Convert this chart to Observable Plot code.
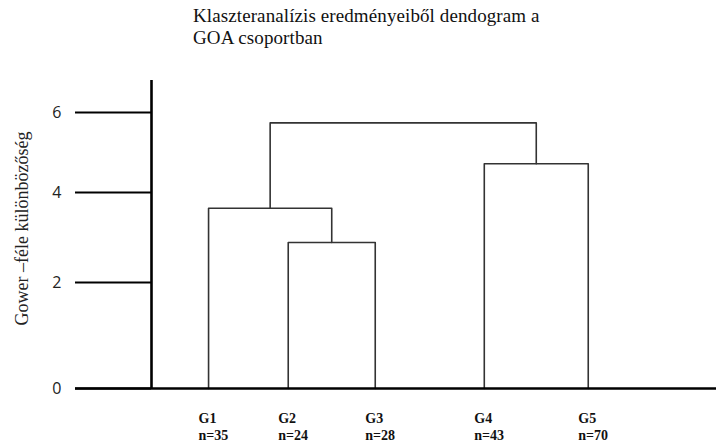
<!DOCTYPE html>
<html>
<head>
<meta charset="utf-8">
<script src="https://cdn.jsdelivr.net/npm/d3@7"></script>
<script src="https://cdn.jsdelivr.net/npm/@observablehq/plot@0.6"></script>
<style>
  html, body { margin: 0; padding: 0; background: #fff; }
  #wrap { position: relative; width: 716px; height: 444px; }
  #title { position: absolute; left: 193px; top: 5px; font-family: "Liberation Serif", "Times New Roman", serif;
           font-size: 19px; line-height: 22px; color: #111; letter-spacing: 0.1px; }
  #chart { position: absolute; left: 0; top: 0; }
</style>
</head>
<body>
<div id="wrap">
  <div id="chart"></div>
  <div id="title">Klaszteranalízis eredményeiből dendogram a<br>GOA csoportban</div>
</div>
<script>
// Leaves (groups) in dendrogram order
const leafNames = ["G1", "G2", "G3", "G4", "G5"];
const leafCounts = [35, 24, 28, 43, 70];
// Leaf positions along the horizontal axis (0–100 units)
const leafPos = [10.1, 24.2, 39.6, 58.9, 77.3];
// Merges: children and Gower distance where they join
const mergeLeft = ["G2", "G1", "G4", "M2"];
const mergeRight = ["G3", "M1", "G5", "M3"];
const mergeHeight = [2.89, 3.65, 4.72, 5.74];
const mergeIds = ["M1", "M2", "M3", "M4"];
// Y axis ticks
const yTicks = [0, 2, 4, 6];

// Build node table
const nodes = new Map();
leafNames.forEach((n, i) => nodes.set(n, {x: leafPos[i], h: 0}));
const linkPts = [];
mergeIds.forEach((id, i) => {
  const a = nodes.get(mergeLeft[i]), b = nodes.get(mergeRight[i]), h = mergeHeight[i];
  nodes.set(id, {x: (a.x + b.x) / 2, h});
  linkPts.push({id, x: a.x, y: a.h}, {id, x: a.x, y: h}, {id, x: b.x, y: h}, {id, x: b.x, y: b.h});
});
const leaves = leafNames.map((n, i) => ({name: n, x: leafPos[i], label: n + "\nn=" + leafCounts[i]}));

const chart = Plot.plot({
  width: 716,
  height: 444,
  marginLeft: 151,
  marginRight: 0,
  marginTop: 80,
  marginBottom: 56,
  style: {background: "white", overflow: "visible"},
  x: {type: "linear", domain: [0, 100], range: [151, 716], axis: null},
  y: {type: "linear", domain: [0, 2, 4, 6, 6.8], range: [388, 282, 192, 112, 80], axis: null},
  marks: [
    // dendrogram links
    Plot.line(linkPts, {x: "x", y: "y", z: "id", stroke: "#333", strokeWidth: 1.6}),
    // y tick lines
    Plot.ruleY(yTicks, {y: d => d, x1: -13.45, x2: 0, stroke: "#000", strokeWidth: 2.2}),
    // baseline
    Plot.ruleY([0], {x1: -13.45, x2: 100, stroke: "#000", strokeWidth: 2.4}),
    // vertical axis line
    Plot.ruleX([0], {y1: 0, y2: 6.8, stroke: "#000", strokeWidth: 2.6}),
    // tick labels
    Plot.text(yTicks, {y: d => d, x: -13.45, text: d => String(d), dx: -14, textAnchor: "end",
      fontFamily: "'Open Sans', 'DejaVu Sans', sans-serif", fontSize: 16, fill: "#222"}),
    // axis title
    Plot.text(["Gower –féle különbözőség"], {frameAnchor: "left", textAnchor: "middle", dx: -129, dy: -6, rotate: -90,
      fontFamily: "'Liberation Serif', 'Times New Roman', serif", fontSize: 18, fill: "#222"}),
    // leaf labels
    Plot.text(leaves, {x: "x", y: 0, text: "label", textAnchor: "start", lineAnchor: "top", dx: -10, dy: 22,
      lineHeight: 1.25, fontFamily: "'Liberation Serif', 'Times New Roman', serif", fontWeight: "bold",
      fontSize: 14, fill: "#111"})
  ]
});
document.getElementById("chart").appendChild(chart);
</script>
</body>
</html>
